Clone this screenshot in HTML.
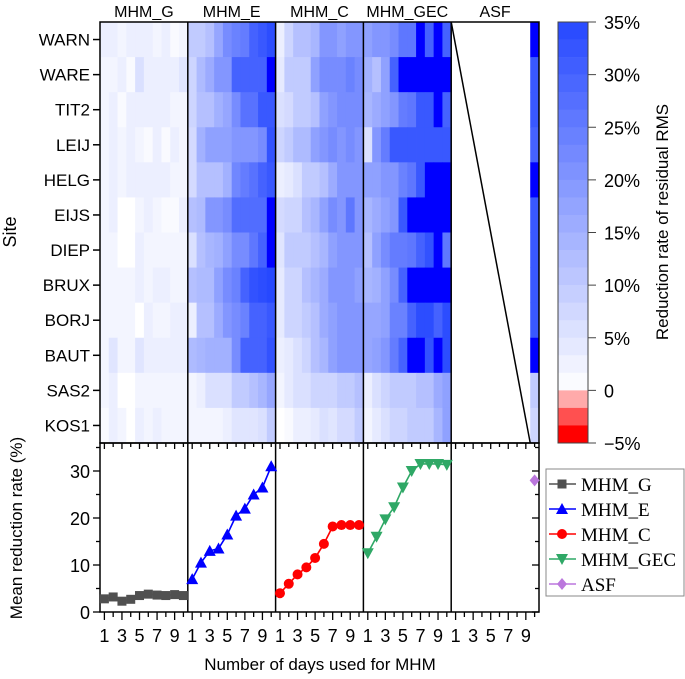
<!DOCTYPE html>
<html><head><meta charset="utf-8"><style>
html,body{margin:0;padding:0;background:#fff;}
svg{display:block;font-family:"Liberation Sans",sans-serif;}
</style></head><body>
<svg id="chart" width="685" height="679" viewBox="0 0 685 679" xmlns="http://www.w3.org/2000/svg"></svg>
<script>
const sites=["WARN","WARE","TIT2","LEIJ","HELG","EIJS","DIEP","BRUX","BORJ","BAUT","SAS2","KOS1"];
const methods=["MHM_G","MHM_E","MHM_C","MHM_GEC","ASF"];
const heatG=[[3,3,2,3,3,3,2,3,1,2],[2,2,3,1,6,3,3,3,3,5],[2,3,1,3,3,3,3,3,2,2],[2,3,2,3,2,1,3,1,3,2],[2,3,2,3,3,3,3,3,2,2],[2,3,0,0,2,3,2,1,1,3],[2,2,0,0,3,2,2,2,2,2],[2,2,2,2,3,2,3,3,2,2],[2,2,2,2,0,3,2,2,3,3],[2,5,2,2,5,3,3,3,3,3],[2,3,0,0,2,2,2,2,2,2],[1,3,2,0,3,2,3,2,2,2]];
const heatE=[[10,10,12,17,22,24,25,30,32,34],[8,13,16,20,20,30,30,30,30,40],[8,12,12,15,17,22,27,27,32,32],[7,15,18,18,18,20,20,20,22,33],[7,12,12,12,15,23,25,27,30,32],[12,13,20,20,22,28,28,28,28,40],[6,12,14,15,18,22,22,26,30,40],[12,13,13,18,22,24,30,33,34,35],[3,12,12,16,20,22,24,30,30,32],[13,14,15,15,15,22,30,30,30,33],[2,3,6,6,6,10,10,12,14,17],[2,2,2,2,3,5,5,5,6,10]];
const heatC=[[3,8,12,12,14,20,20,18,20,20],[4,10,10,10,18,22,22,22,24,22],[6,7,10,10,12,18,20,22,22,22],[8,10,13,13,18,20,22,20,22,20],[3,4,6,10,10,12,16,20,20,20],[7,8,8,12,14,18,22,20,26,20],[5,10,10,10,12,14,18,20,20,20],[4,8,8,12,14,16,20,20,20,18],[4,8,8,10,12,16,18,20,20,20],[3,4,6,8,12,14,18,20,20,20],[2,4,6,6,8,8,8,10,10,12],[0,1,3,3,4,6,5,7,7,10]];
const heatGEC=[[18,20,20,22,26,26,40,30,38,30],[15,12,18,30,40,40,40,40,40,40],[14,16,18,20,25,26,32,32,40,30],[6,20,25,32,32,32,32,32,32,32],[18,18,20,20,24,26,32,40,40,40],[14,16,18,20,32,40,40,40,40,40],[12,18,22,25,25,26,30,33,40,26],[14,15,18,22,30,40,40,40,40,40],[17,17,18,24,24,30,34,34,30,34],[17,18,20,25,30,40,40,33,40,34],[3,6,8,10,10,10,12,12,16,18],[2,4,6,8,8,10,10,10,14,18]];
const heatASF=[40,32,32,30,40,32,32,32,32,36,10,8];
const days=[1,2,3,4,5,6,7,8,9,10];
const meanG=[2.8,3.2,2.3,2.7,3.5,3.8,3.6,3.5,3.7,3.5];
const meanE=[7,10.5,13,13.5,16.5,20.5,22,25,26.5,31];
const meanC=[4,6,8,9.5,11.5,14.5,18.2,18.5,18.5,18.5];
const meanGEC=[12.5,16,19.7,22.3,26.5,30,31.5,31.5,31.5,31.3];
const meanASF=[28];
const yTicks=[0,10,20,30];
const cbTicks=[35,30,25,20,15,10,5,0,-5];
const cbLabels=["35%","30%","25%","20%","15%","10%","5%","0","\u22125%"];

const NS="http://www.w3.org/2000/svg";
const svg=document.getElementById('chart');
function el(tag,attrs,parent){const e=document.createElementNS(NS,tag);for(const k in attrs)e.setAttribute(k,attrs[k]);(parent||svg).appendChild(e);return e;}
const X0=100,PW=87.8,TOP=22,HB=443,RH=(HB-TOP)/12,BOT=612;
const colW=PW/10;
function xCol(p,d){return X0+p*PW+(d-1)*colW;}
function xPt(p,d){return X0+p*PW+(d-0.5)*colW;}
function yRow(i){return TOP+i*RH;}
function yVal(v){return BOT-v*4.7;}
function color(v){
  if(v>35.5)return "#0000ff";
  const t=Math.min(1,Math.max(0,v)/35);
  return `rgb(${Math.round(255-(255-38)*t)},${Math.round(255-(255-72)*t)},255)`;
}
const hg=el('g',{},svg);


const heats=[heatG,heatE,heatC,heatGEC];
heats.forEach((h,p)=>{h.forEach((row,i)=>{row.forEach((v,j)=>{
  const r=el('rect',{x:xCol(p,days[j]),y:yRow(i),width:colW+0.4,height:RH+0.4,fill:color(v)},hg);
  
  
});});});
heatASF.forEach((v,i)=>{
  const r=el('rect',{x:xCol(4,10),y:yRow(i),width:colW,height:RH+0.4,fill:color(v)},hg);
  
  
});
const dl=el('line',{x1:X0+4*PW,y1:TOP,x2:xCol(4,10),y2:HB,stroke:'#000','stroke-width':1.5},svg);


const X1=X0+5*PW;
for(let p=1;p<5;p++){const l=el('line',{x1:X0+p*PW,y1:TOP,x2:X0+p*PW,y2:BOT,stroke:'#000','stroke-width':1.5});}
const f1=el('rect',{x:X0,y:TOP,width:X1-X0,height:HB-TOP,fill:'none',stroke:'#000','stroke-width':1.5});

const f2=el('rect',{x:X0,y:HB,width:X1-X0,height:BOT-HB,fill:'none',stroke:'#000','stroke-width':1.5});

methods.forEach((m,p)=>{const t=el('text',{x:X0+(p+0.5)*PW,y:17,'text-anchor':'middle','font-size':16});t.textContent=m;});
sites.forEach((s,i)=>{const yc=yRow(i)+RH/2;
  const t=el('text',{x:90,y:yc+6,'text-anchor':'end','font-size':17});t.textContent=s;
  el('line',{x1:93,y1:yc,x2:X0,y2:yc,stroke:'#000','stroke-width':1.5});});
const st=el('text',{transform:'translate(16,232) rotate(-90)','text-anchor':'middle','font-size':18});st.textContent='Site';
for(let p=0;p<5;p++){for(let d=1;d<=10;d++){const x=xPt(p,d);
  const big=d%2===1;
  el('line',{x1:x,y1:BOT,x2:x,y2:BOT+(big?8:5),stroke:'#000','stroke-width':1.3});
  el('line',{x1:x,y1:HB,x2:x,y2:HB+(big?6:4),stroke:'#000','stroke-width':1.3});
  if(big){const t=el('text',{x:x,y:BOT+30,'text-anchor':'middle','font-size':18});t.textContent=days[d-1];}
}}
const xt=el('text',{x:320,y:670,'text-anchor':'middle','font-size':17});xt.textContent='Number of days used for MHM';
for(let v=0;v<=35;v+=5){const y=yVal(v);const big=v%10===0;
  el('line',{x1:X0-(big?7:4),y1:y,x2:X0,y2:y,stroke:'#000','stroke-width':1.3});
  el('line',{x1:X1,y1:y,x2:X1-(big?7:4),y2:y,stroke:'#000','stroke-width':1.3});}
yTicks.forEach(v=>{const t=el('text',{x:X0-10,y:yVal(v)+7,'text-anchor':'end','font-size':18});t.textContent=v;});
const yt=el('text',{transform:'translate(22,528) rotate(-90)','text-anchor':'middle','font-size':17});yt.textContent='Mean reduction rate (%)';
function marker(g,shape,x,y,c){
  if(shape==='sq')return el('rect',{x:x-4.5,y:y-4.5,width:9,height:9,fill:c},g);
  if(shape==='up')return el('polygon',{points:`${x},${y-6} ${x-6},${y+5} ${x+6},${y+5}`,fill:c},g);
  if(shape==='dn')return el('polygon',{points:`${x},${y+6} ${x-6},${y-5} ${x+6},${y-5}`,fill:c},g);
  if(shape==='ci')return el('circle',{cx:x,cy:y,r:5,fill:c},g);
  return el('polygon',{points:`${x},${y-6} ${x+5},${y} ${x},${y+6} ${x-5},${y}`,fill:c},g);
}
const series=[[meanG,'#505050','sq',0,'MHM_G'],[meanE,'#0000ff','up',1,'MHM_E'],[meanC,'#ff0000','ci',2,'MHM_C'],[meanGEC,'#2fa866','dn',3,'MHM_GEC']];
series.forEach(([vals,c,sh,p,name])=>{
  const g=el('g',{});
  
  
  const pts=vals.map((v,i)=>`${xPt(p,days[i])},${yVal(v)}`).join(' ');
  el('polyline',{points:pts,fill:'none',stroke:c,'stroke-width':1.6},g);
  vals.forEach((v,i)=>{const m=marker(g,sh,xPt(p,days[i]),yVal(v),c);});
});
const ga=el('g',{});
meanASF.forEach(v=>{const m=marker(ga,'di',xPt(4,10),yVal(v),'#bb77dd');});
const lg=el('g',{});
el('rect',{x:546,y:469,width:138,height:127,fill:'#fff',stroke:'#888','stroke-width':1},lg);
const leg=[['MHM_G','#505050','sq'],['MHM_E','#0000ff','up'],['MHM_C','#ff0000','ci'],['MHM_GEC','#2fa866','dn'],['ASF','#bb77dd','di']];
leg.forEach(([n,c,sh],i)=>{const y=484+i*25;
  const e=el('g',{},lg);
  el('line',{x1:549,y1:y,x2:576,y2:y,stroke:c,'stroke-width':1.6},e);
  marker(e,sh,562,y,c);
  const t=el('text',{x:581,y:y+7,'font-size':19,'font-family':'"Liberation Serif",serif'},e);t.textContent=n;});
const cb=el('g',{});
const CBX=558,CBW=30;
function yCb(v){return TOP+(35-v)*(HB-TOP)/40;}
for(let k=0;k<24;k++){const v0=35-k*5/3;const v1=v0-5/3;el('rect',{x:CBX,y:yCb(v0),width:CBW,height:yCb(v1)-yCb(v0)+0.3,fill:color((v0+v1)/2)},cb);}
const reds=['#ffaaaa','#ff5050','#ff0000'];
for(let k=0;k<3;k++){el('rect',{x:CBX,y:yCb(-k*5/3),width:CBW,height:yCb(-(k+1)*5/3)-yCb(-k*5/3)+0.3,fill:reds[k]},cb);}
el('rect',{x:CBX,y:TOP,width:CBW,height:HB-TOP,fill:'none',stroke:'#444','stroke-width':1},cb);
cbTicks.forEach((v,i)=>{const y=yCb(v);el('line',{x1:CBX+CBW,y1:y,x2:CBX+CBW+8,y2:y,stroke:'#444','stroke-width':1},cb);
  const t=el('text',{x:604,y:y+7,'font-size':18},cb);t.textContent=cbLabels[i];});
const ct=el('text',{transform:'translate(668,222) rotate(-90)','text-anchor':'middle','font-size':17});ct.textContent='Reduction rate of  residual RMS';
</script>
</body></html>
